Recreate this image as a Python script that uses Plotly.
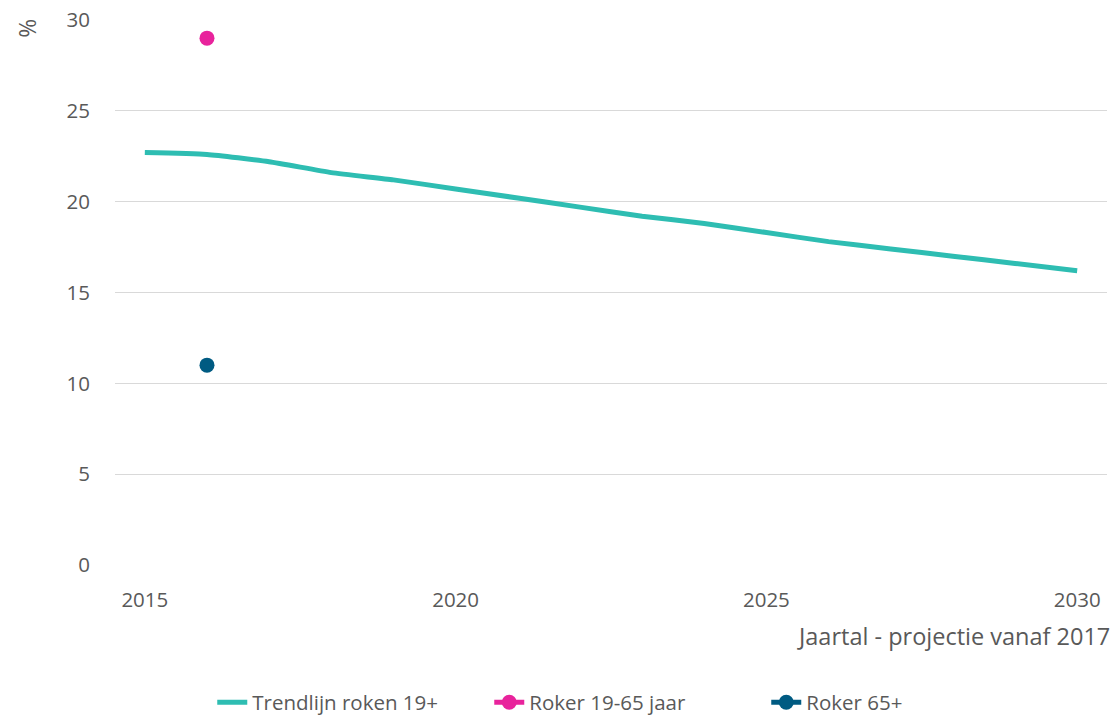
import plotly.graph_objects as go

years = list(range(2015, 2031))
trend = [22.7, 22.6, 22.2, 21.6, 21.2, 20.7, 20.2, 19.7, 19.2, 18.8, 18.3, 17.8, 17.4, 17.0, 16.6, 16.2]
point_year = [2016]
roker_19_65 = [29.0]
roker_65 = [11.0]

teal = "#2EBDB2"
pink = "#E8239C"
blue = "#005B82"
txt = "#595959"
font_family = "Open Sans, Lato, sans-serif"

fig = go.Figure()
fig.add_trace(go.Scatter(x=years, y=trend, mode="lines", name="Trendlijn roken 19+",
                         line=dict(color=teal, width=5, shape="spline", smoothing=0.5)))
fig.add_trace(go.Scatter(x=point_year, y=roker_19_65, mode="lines+markers", name="Roker 19-65 jaar",
                         line=dict(color=pink, width=5), marker=dict(color=pink, size=15)))
fig.add_trace(go.Scatter(x=point_year, y=roker_65, mode="lines+markers", name="Roker 65+",
                         line=dict(color=blue, width=5), marker=dict(color=blue, size=15)))

fig.update_layout(
    width=1117, height=716,
    margin=dict(l=115, r=10, t=20, b=151, autoexpand=False),
    paper_bgcolor="white", plot_bgcolor="white",
    font=dict(family=font_family, size=20, color=txt),
    showlegend=True,
    legend=dict(orientation="h", xref="container", yref="container",
                x=0.562, xanchor="center", y=0.019, yanchor="middle",
                font=dict(size=20.5, color=txt), entrywidth=232, entrywidthmode="pixels",
                tracegroupgap=0),
    xaxis=dict(range=[2014.52, 2030.48], tickvals=[2015, 2020, 2025, 2030],
               showgrid=False, zeroline=False, showline=False, automargin=False,
               ticks="outside", ticklen=16, tickcolor="rgba(0,0,0,0)",
               tickfont=dict(size=20.5, color=txt)),
    yaxis=dict(range=[0, 30], tickvals=[0, 5, 10, 15, 20, 25, 30],
               showgrid=True, gridcolor="#D9D9D9", gridwidth=1.3, zeroline=False,
               showline=False, automargin=False, ticks="outside", ticklen=20,
               tickcolor="rgba(0,0,0,0)", tickfont=dict(size=20.5, color=txt)),
    annotations=[
        dict(text="%", xref="paper", yref="paper", x=-0.0887, y=1.005, xanchor="center", yanchor="top",
             textangle=-90, showarrow=False, font=dict(size=23, color=txt)),
        dict(text="Jaartal - projectie vanaf 2017", xref="paper", yref="paper", x=1.005, y=-0.130,
             xanchor="right", yanchor="middle", showarrow=False, font=dict(size=23.5, color=txt)),
    ],
)

fig.write_html("out.html", config={"displayModeBar": False},
               post_script="document.body.style.margin='0';document.body.style.padding='0';")
